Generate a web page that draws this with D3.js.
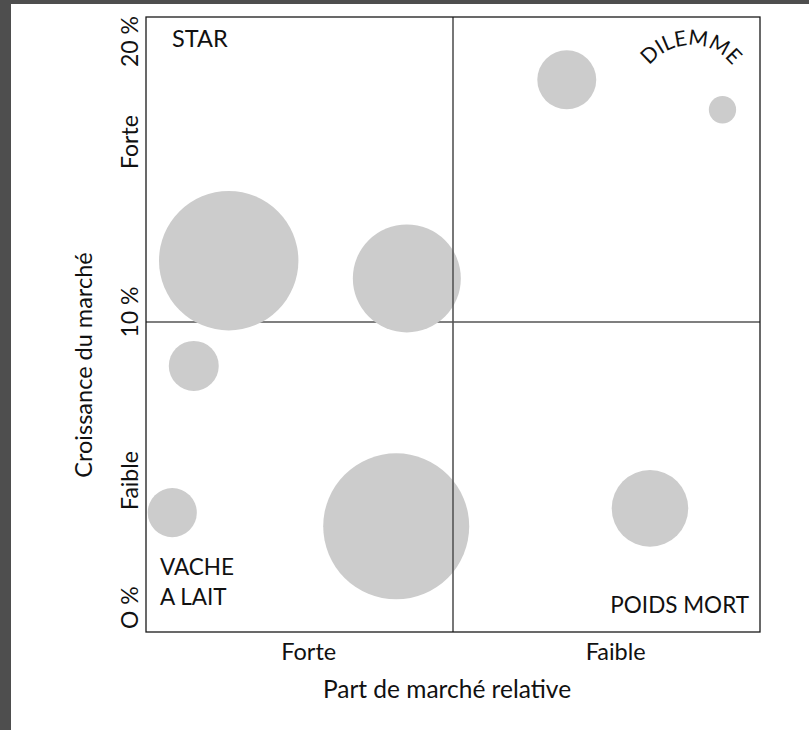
<!DOCTYPE html>
<html>
<head>
<meta charset="utf-8">
<script src="https://cdn.jsdelivr.net/npm/d3@7"></script>
<style>
  html, body { margin: 0; padding: 0; background: #4e4e4e; }
  svg { display: block; }
  text { font-family: Lato, "Open Sans", sans-serif; fill: #111; font-weight: 400; }
</style>
</head>
<body>
<div id="chart"></div>
<script>
// ---- data ----
const bubbleX    = [13.47, 42.48, 7.78, 4.28, 40.75, 82.08, 68.53, 93.89];
const bubbleY    = [12.01, 11.43, 8.56, 3.75, 3.30, 3.89, 17.94, 16.96];
const bubbleSize = [91.2, 54.7, 11.7, 11.3, 100, 27.5, 16.3, 3.5];

const xTickLabels = ["Forte", "Faible"];
const xTickValues = [26.5, 76.5];
const yTickLabels = ["O %", "Faible", "10 %", "Forte", "20 %"];
const yTickValues = [0, 4.8, 10, 15.9, 20];

const quadrantLabels = ["STAR", "DILEMME", "VACHE", "A LAIT", "POIDS MORT"];
const xTitle = "Part de marché relative";
const yTitle = "Croissance du marché";

(function () {
// ---- layout ----
const W = 809, H = 730;
const pLeft = 146, pRight = 760, pTop = 17, pBottom = 632;

const svg = d3.select("#chart").append("svg").attr("width", W).attr("height", H);

// white page
svg.append("rect").attr("x", 11).attr("y", 4).attr("width", W - 11).attr("height", H - 4).attr("fill", "#fff");

const x = d3.scaleLinear().domain([0, 100]).range([pLeft, pRight]);
const y = d3.scaleLinear().domain([0, 20]).range([627, pTop]);
const r = d3.scaleSqrt().domain([0, 100]).range([0, 73]);

// horizontal mid line (below bubbles)
svg.append("line")
  .attr("x1", pLeft).attr("x2", pRight)
  .attr("y1", y(10)).attr("y2", y(10))
  .attr("stroke", "#555").attr("stroke-width", 1.6);

// bubbles
svg.append("g").selectAll("circle")
  .data(bubbleX.map((v, i) => ({x: v, y: bubbleY[i], s: bubbleSize[i]})))
  .join("circle")
  .attr("cx", d => x(d.x))
  .attr("cy", d => y(d.y))
  .attr("r", d => r(d.s))
  .attr("fill", "#cccccc");

// vertical mid line (over bubbles)
svg.append("line")
  .attr("x1", x(50)).attr("x2", x(50))
  .attr("y1", pTop).attr("y2", pBottom)
  .attr("stroke", "#555").attr("stroke-width", 1.6);

// frame
svg.append("rect")
  .attr("x", pLeft).attr("y", pTop)
  .attr("width", pRight - pLeft).attr("height", pBottom - pTop)
  .attr("fill", "none").attr("stroke", "#1a1a1a").attr("stroke-width", 1.3);

const fs = 22.5;

// x tick labels
svg.append("g").selectAll("text")
  .data(xTickLabels)
  .join("text")
  .attr("x", (d, i) => x(xTickValues[i]))
  .attr("y", 660)
  .attr("text-anchor", "middle")
  .attr("font-size", 23.5)
  .text(d => d);

// y tick labels (rotated)
const last = yTickLabels.length - 1;
svg.append("g").selectAll("text")
  .data(yTickLabels)
  .join("text")
  .attr("transform", (d, i) => {
    let py = y(yTickValues[i]);
    if (i === 0) py += 2;
    else if (i === last) py -= 1;
    else if (yTickValues[i] === 10) py -= 10;
    return `translate(138,${py}) rotate(-90)`;
  })
  .attr("text-anchor", (d, i) => i === 0 ? "start" : (i === last ? "end" : "middle"))
  .attr("font-size", 23)
  .text(d => d);

// axis titles
svg.append("text")
  .attr("x", 447).attr("y", 698)
  .attr("text-anchor", "middle")
  .attr("font-size", 24.5)
  .text(xTitle);

svg.append("text")
  .attr("transform", "translate(92,365) rotate(-90)")
  .attr("text-anchor", "middle")
  .attr("font-size", 23.5)
  .text(yTitle);

// quadrant labels
svg.append("text").attr("x", 172).attr("y", 47).attr("font-size", 23.5).text(quadrantLabels[0]);

// arched DILEMME
const arcR = 52, acx = 691, acy = 97;
const a0 = -Math.PI, a1 = 0;
svg.append("path")
  .attr("id", "arcPath")
  .attr("d", `M${acx + arcR * Math.cos(a0)},${acy + arcR * Math.sin(a0)} A${arcR},${arcR} 0 0 1 ${acx + arcR * Math.cos(a1)},${acy + arcR * Math.sin(a1)}`)
  .attr("fill", "none");
svg.append("text")
  .attr("font-size", 21)
  .append("textPath")
  .attr("href", "#arcPath")
  .attr("startOffset", "50%")
  .attr("text-anchor", "middle")
  .text(quadrantLabels[1]);

svg.append("text").attr("x", 160).attr("y", 575).attr("font-size", fs).text(quadrantLabels[2]);
svg.append("text").attr("x", 160).attr("y", 605).attr("font-size", fs).text(quadrantLabels[3]);
svg.append("text").attr("x", 749).attr("y", 613).attr("text-anchor", "end").attr("font-size", fs).text(quadrantLabels[4]);
})();
</script>
</body>
</html>
